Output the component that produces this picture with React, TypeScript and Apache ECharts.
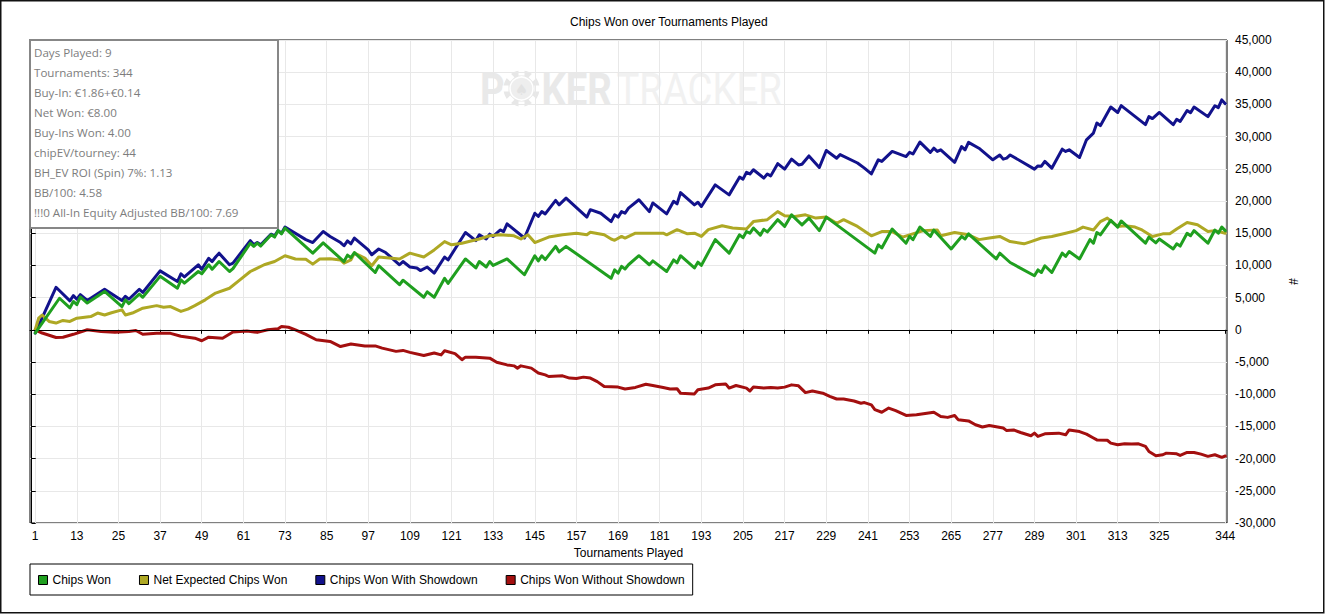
import React, { useEffect, useRef } from 'react';
import * as echarts from 'echarts';

const titleText = 'Chips Won over Tournaments Played';
const xName = 'Tournaments Played';
const yName = '#';

const xTicks = [1, 13, 25, 37, 49, 61, 73, 85, 97, 109, 121, 133, 145, 157, 169, 181, 193, 205, 217, 229, 241, 253, 265, 277, 289, 301, 313, 325, 344];

const seriesNames = ['Chips Won', 'Net Expected Chips Won', 'Chips Won With Showdown', 'Chips Won Without Showdown'];
const seriesColors = ['#1f9f1f', '#aea824', '#12128c', '#a30f0f'];

const infoLines = [
  'Days Played: 9',
  'Tournaments: 344',
  'Buy-In: €1.86+€0.14',
  'Net Won: €8.00',
  'Buy-Ins Won: 4.00',
  'chipEV/tourney: 44',
  'BH_EV ROI (Spin) 7%: 1.13',
  'BB/100: 4.58',
  '!!!0 All-In Equity Adjusted BB/100: 7.69',
];

// [tournament, chips]
const chipsWon: [number, number][] = [[1,-500],[8,4900],[11,3400],[12,4400],[13,3900],[14,5100],[16,4150],[21,5950],[26,3600],[27,4650],[28,4050],[31,5550],[32,5050],[37,8300],[42,6450],[43,7750],[44,7250],[48,9050],[49,8700],[51,10100],[52,9400],[54,10600],[57,9050],[58,9500],[63,13450],[64,12950],[65,13450],[66,13000],[69,14750],[70,14400],[71,15400],[72,14900],[73,15800],[81,11900],[84,13500],[90,10600],[91,11600],[92,11200],[93,12000],[99,8900],[100,9950],[106,7000],[107,7700],[113,5050],[114,5900],[116,5050],[119,8000],[120,7200],[125,11000],[128,9600],[129,10600],[131,9750],[132,10600],[133,10000],[137,11000],[142,8550],[145,11500],[146,10700],[147,11500],[148,10900],[151,12950],[152,12100],[154,12950],[167,8000],[168,9300],[169,8800],[170,9850],[171,9450],[172,10100],[175,11500],[178,10100],[179,10700],[183,9050],[185,10850],[186,10400],[187,11500],[191,9600],[192,10500],[193,10000],[197,14000],[201,11900],[204,14750],[205,14300],[206,15250],[207,15000],[208,15800],[210,14700],[211,15600],[212,15200],[215,17100],[217,16050],[219,17850],[222,16300],[224,17350],[227,15400],[229,17500],[243,11900],[244,13200],[245,12700],[248,15650],[252,13450],[253,14500],[254,14000],[256,15950],[259,14500],[260,15500],[265,12550],[268,14500],[269,14100],[270,14900],[278,11000],[279,11900],[282,10450],[289,8400],[290,9300],[291,8900],[292,9950],[294,8900],[297,11900],[298,11400],[299,12150],[302,11000],[305,14000],[306,13450],[307,15100],[308,14750],[311,17000],[313,15950],[314,16900],[321,13450],[322,14400],[324,13500],[325,14100],[329,12550],[330,13350],[331,13000],[333,15000],[334,14600],[335,15400],[339,13450],[341,15500],[342,15000],[343,15950],[344,15400]];

const netExpected: [number, number][] = [[1,0],[2,1800],[3,2300],[5,1300],[7,1050],[9,1450],[11,1300],[13,1800],[17,2050],[19,2600],[21,2300],[23,2650],[26,3100],[27,2300],[29,2600],[32,3350],[36,3750],[38,3500],[40,3600],[43,2850],[45,3200],[47,3750],[50,4650],[53,5700],[57,6450],[60,7750],[63,9050],[67,10100],[70,10600],[73,11500],[76,11000],[79,10950],[81,10200],[83,11000],[86,11050],[89,10850],[90,10350],[92,10850],[93,11900],[96,11150],[98,9950],[100,11300],[103,11150],[106,11000],[109,11900],[113,11300],[116,12400],[119,13700],[121,13200],[124,13450],[126,13700],[129,14100],[132,14600],[135,14750],[139,14600],[141,14100],[143,14750],[145,13550],[149,14400],[153,14750],[157,15000],[160,14750],[161,15150],[165,14750],[167,14100],[168,13900],[170,14500],[171,14250],[174,15000],[178,15000],[182,15000],[183,14750],[186,15550],[189,14900],[191,15000],[193,14500],[195,15550],[199,16150],[202,15800],[206,15650],[208,16800],[212,17100],[215,18350],[217,17700],[220,17600],[223,17850],[226,17350],[229,17500],[232,16550],[234,17100],[238,16050],[242,14600],[245,15250],[248,15250],[251,14400],[253,14750],[257,15400],[261,15500],[262,14600],[266,15100],[270,14750],[273,14000],[276,14250],[279,14500],[282,13700],[286,13350],[288,13700],[291,14250],[294,14500],[298,15000],[301,15400],[303,15950],[306,15500],[308,16800],[310,17350],[313,16050],[315,16150],[318,15950],[320,15500],[323,14500],[326,14900],[328,14900],[330,15650],[333,16650],[336,16300],[339,15250],[341,15400],[344,15000]];

const withShowdown: [number, number][] = [[1,-500],[7,6600],[11,4500],[12,5300],[13,4750],[14,5450],[16,4550],[21,6300],[26,4550],[27,5200],[28,4750],[31,6300],[32,5800],[37,9150],[42,7500],[43,8700],[44,8200],[48,10100],[49,9400],[51,11100],[52,10600],[53,11300],[54,11900],[57,10100],[58,10350],[63,13850],[64,13200],[65,13550],[66,13200],[69,14850],[70,14600],[71,15400],[72,15000],[73,15950],[79,14000],[81,13550],[84,15250],[86,14500],[89,13550],[90,13050],[91,13800],[92,13350],[93,14250],[97,12400],[98,11650],[100,12550],[102,12000],[106,10100],[107,10600],[109,9750],[111,9600],[112,9200],[114,9750],[116,8800],[119,11300],[120,10850],[125,15100],[128,13850],[129,14750],[131,14100],[132,14850],[133,14500],[135,15500],[136,15250],[137,16450],[142,14250],[145,18100],[146,17600],[147,18350],[148,18000],[151,20100],[152,19400],[154,20450],[160,17500],[161,18650],[164,18100],[167,16800],[168,17850],[169,17500],[170,18350],[171,18100],[172,18900],[175,20200],[178,18350],[179,19700],[183,18000],[185,19950],[186,19550],[187,21300],[191,19400],[192,19800],[193,19150],[197,22500],[201,20950],[204,23700],[205,23400],[206,24450],[207,24200],[208,24850],[211,23550],[212,24200],[213,23900],[215,25800],[217,24950],[219,26500],[221,25600],[222,25700],[224,27000],[227,25200],[229,27850],[232,26650],[233,27200],[238,25900],[240,25100],[242,24200],[244,26400],[245,26150],[248,27700],[252,26900],[253,27550],[254,27300],[256,29150],[259,27550],[260,28200],[261,27700],[262,27950],[266,26000],[268,28450],[269,27950],[270,29100],[273,28200],[277,26400],[279,27150],[280,26500],[281,26650],[282,27150],[289,24950],[290,25450],[291,25400],[292,26150],[294,25100],[297,28050],[298,27700],[299,27950],[302,26750],[304,29500],[306,30550],[307,32100],[308,31700],[311,34600],[313,33750],[314,34800],[321,31850],[322,33100],[323,32800],[325,33750],[329,31850],[330,32700],[331,32350],[333,34050],[334,33700],[335,34600],[339,33100],[341,34800],[342,34500],[343,35700],[344,35100]];

const withoutShowdown: [number, number][] = [[1,0],[3,-500],[7,-1200],[9,-1150],[12,-700],[16,0],[20,-250],[24,-400],[28,-250],[30,-100],[32,-700],[36,-550],[40,-550],[43,-1000],[47,-1300],[49,-1700],[51,-1150],[55,-1300],[58,-350],[62,-200],[65,-400],[68,0],[71,150],[72,500],[74,400],[76,0],[79,-700],[82,-1550],[86,-1800],[89,-2600],[92,-2200],[96,-2500],[99,-2500],[101,-2850],[105,-3350],[107,-3200],[109,-3500],[113,-4000],[116,-3600],[118,-3900],[119,-3250],[122,-3700],[124,-4650],[125,-4250],[128,-4250],[132,-4400],[134,-5050],[137,-5450],[139,-5600],[140,-5950],[141,-5600],[144,-5950],[146,-6700],[148,-7000],[149,-7250],[153,-7150],[155,-7500],[157,-7550],[159,-7350],[161,-7500],[163,-8050],[165,-8800],[169,-8900],[171,-9200],[174,-8950],[177,-8450],[179,-8650],[182,-8950],[184,-9200],[186,-9150],[187,-9850],[191,-9950],[192,-9300],[195,-9050],[197,-8550],[200,-8400],[201,-9050],[203,-8650],[206,-9050],[207,-9500],[208,-8900],[211,-9050],[213,-8950],[215,-9050],[217,-8900],[219,-8550],[221,-8700],[223,-9750],[225,-9500],[228,-9850],[230,-10350],[232,-10750],[234,-10750],[237,-11050],[239,-11400],[240,-11300],[242,-11650],[243,-12400],[245,-12800],[247,-12150],[249,-12550],[252,-13300],[255,-13200],[257,-13050],[260,-12800],[262,-13450],[264,-13600],[266,-13300],[267,-13950],[270,-14150],[272,-14750],[274,-15100],[276,-14850],[280,-15250],[281,-15650],[283,-15550],[285,-15950],[288,-16450],[289,-16050],[290,-16550],[292,-16150],[296,-16050],[298,-16300],[299,-15550],[302,-15800],[304,-16200],[306,-16800],[307,-17100],[310,-17150],[311,-17600],[313,-17850],[315,-17700],[317,-17750],[319,-17700],[321,-18100],[322,-18900],[324,-19550],[326,-19400],[327,-19150],[330,-19250],[331,-19500],[333,-19050],[335,-19050],[337,-19300],[339,-19650],[341,-19400],[343,-19800],[344,-19600]];

const seriesData = [chipsWon, netExpected, withShowdown, withoutShowdown];

export default function App() {
  const ref = useRef<HTMLDivElement>(null);

  useEffect(() => {
    if (!ref.current) return;
    const chart = echarts.init(ref.current, null, { renderer: 'svg' });
    const font = '"Liberation Sans", Arial, sans-serif';

    const zOrder = [5, 4, 3, 2];
    const series: any[] = seriesNames.map((name, i) => ({
      name,
      type: 'line',
      data: seriesData[i],
      symbol: 'none',
      showSymbol: false,
      z: zOrder[i],
      silent: true,
      lineStyle: { color: seriesColors[i], width: 3, join: 'round', cap: 'round' },
      itemStyle: { color: seriesColors[i] },
      emphasis: { disabled: true },
    }));
    series.push({
      name: 'zero',
      type: 'line',
      data: [],
      z: 1,
      silent: true,
      markLine: {
        silent: true,
        symbol: 'none',
        label: { show: false },
        lineStyle: { color: '#000', width: 1, type: 'solid' },
        data: [{ yAxis: 0 }],
      },
    });

    const infoText = infoLines.map((t, i) => ({
      type: 'text',
      x: 34,
      y: 52 + i * 20,
      z: 101,
      style: {
        text: t,
        fill: '#7d7d7d',
        font: '11.6px "Open Sans", "Noto Sans", sans-serif',
        textVerticalAlign: 'middle',
        textAlign: 'left',
      },
    }));

    const notches = [0, 1, 2, 3, 4, 5, 6, 7].map((k) => ({
      type: 'rect',
      x: 0,
      y: 0,
      rotation: (k * Math.PI) / 4,
      z: -4,
      shape: { x: -3, y: -19, width: 6, height: 6 },
      style: { fill: '#fff' },
    }));

    chart.setOption({
      animation: false,
      backgroundColor: '#fff',
      title: {
        text: titleText,
        left: 570,
        top: 16,
        padding: 0,
        textStyle: { fontFamily: font, fontSize: 12, fontWeight: 'normal', color: '#000' },
      },
      grid: {
        left: 30,
        right: 98,
        top: 40,
        bottom: 91,
        show: true,
        borderColor: '#000',
        borderWidth: 1,
        backgroundColor: 'transparent',
        containLabel: false,
      },
      legend: {
        data: seriesNames,
        left: 30,
        top: 564,
        orient: 'horizontal',
        icon: 'rect',
        itemWidth: 9,
        itemHeight: 9,
        itemGap: 28,
        padding: [10, 8, 9, 8],
        selectedMode: false,
        borderColor: '#000',
        borderWidth: 1,
        backgroundColor: '#fff',
        itemStyle: { borderColor: '#000', borderWidth: 1 },
        textStyle: { fontFamily: font, fontSize: 12, color: '#000', padding: [0, 0, 0, 0] },
      },
      xAxis: {
        type: 'value',
        min: -0.5,
        max: 344.5,
        name: xName,
        nameLocation: 'middle',
        nameGap: 24,
        nameTextStyle: { fontFamily: font, fontSize: 12, color: '#000' },
        axisLine: { show: true, lineStyle: { color: '#000', width: 1 } },
        axisTick: { show: true, length: 4, lineStyle: { color: '#000' }, customValues: xTicks },
        axisLabel: { fontFamily: font, fontSize: 12, color: '#000', margin: 7, customValues: xTicks },
        splitLine: { show: true, lineStyle: { color: '#e8e8e8', width: 1 } },
      },
      yAxis: {
        type: 'value',
        position: 'right',
        min: -30000,
        max: 45000,
        interval: 5000,
        name: yName,
        nameLocation: 'middle',
        nameGap: 56,
        nameRotate: -90,
        nameTextStyle: { fontFamily: font, fontSize: 12, color: '#000' },
        axisLine: { show: true, lineStyle: { color: '#000', width: 1 } },
        axisTick: { show: true, length: 4, lineStyle: { color: '#000' } },
        axisLabel: {
          fontFamily: font,
          fontSize: 12,
          color: '#000',
          margin: 8,
          formatter: (v: number) => v.toLocaleString('en-US'),
        },
        splitLine: { show: true, lineStyle: { color: '#e8e8e8', width: 1 } },
      },
      series,
      graphic: [
        {
          type: 'rect',
          z: 200,
          silent: true,
          shape: { x: 0.75, y: 0.75, width: 1323, height: 612 },
          style: { fill: 'none', stroke: '#111', lineWidth: 1.5 },
        },
        {
          type: 'text',
          x: 480,
          y: 89,
          z: -5,
          scaleX: 0.85,
          silent: true,
          style: { text: 'P', font: 'bold 45px Roboto, sans-serif', fill: '#e9e9e9', textVerticalAlign: 'middle' },
        },
        {
          type: 'group',
          x: 521.5,
          y: 88.5,
          z: -5,
          silent: true,
          children: [
            { type: 'circle', z: -5, shape: { cx: 0, cy: 0, r: 18 }, style: { fill: '#e7e7e7' } },
            ...notches,
            { type: 'circle', z: -3, shape: { cx: 0, cy: 0, r: 11.5 }, style: { fill: '#eeeeee', stroke: '#fff', lineWidth: 1.5 } },
            { type: 'text', z: -2, x: 0, y: 1, style: { text: '♠', font: '15px "DejaVu Sans", sans-serif', fill: '#e2e2e2', textAlign: 'center', textVerticalAlign: 'middle' } },
          ],
        },
        {
          type: 'text',
          x: 541.5,
          y: 89,
          z: -5,
          scaleX: 0.85,
          silent: true,
          style: { text: 'KER', font: 'bold 45px Roboto, sans-serif', fill: '#e9e9e9', textVerticalAlign: 'middle' },
        },
        {
          type: 'text',
          x: 616.5,
          y: 89,
          z: -5,
          scaleX: 0.85,
          silent: true,
          style: { text: 'TRACKER', font: '45px Roboto, sans-serif', fill: '#f1f1f1', textVerticalAlign: 'middle' },
        },
        {
          type: 'rect',
          z: 100,
          silent: true,
          shape: { x: 30, y: 40, width: 248, height: 188 },
          style: { fill: '#fff', stroke: '#878787', lineWidth: 2 },
        },
        ...infoText,
      ],
    });

    return () => chart.dispose();
  }, []);

  return (
    <div
      ref={ref}
      style={{ position: 'fixed', left: 0, top: 0, width: 1325, height: 614, background: '#fff' }}
    />
  );
}
